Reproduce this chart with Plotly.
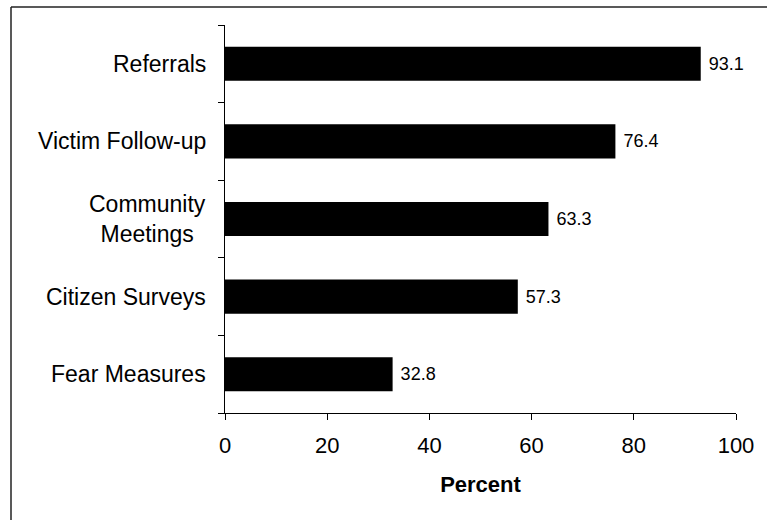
import plotly.graph_objects as go

# Share of agencies reporting each activity (percent)
categories = ["Fear Measures", "Citizen Surveys", "Community<br>Meetings",
              "Victim Follow-up", "Referrals"]
values = [32.8, 57.3, 63.3, 76.4, 93.1]
x_ticks = [0, 20, 40, 60, 80, 100]

FONT = "Arial, Liberation Sans, Helvetica, sans-serif"
W, H = 767, 520
ML, MR, MT, MB = 225, 31, 25, 107
pw, ph = W - ML - MR, H - MT - MB

fig = go.Figure()
fig.add_trace(go.Bar(
    x=values,
    y=categories,
    orientation="h",
    marker=dict(color="#000000", line=dict(width=0)),
    text=[f"{v:.1f}" for v in values],
    texttemplate=" %{text}",
    textposition="outside",
    textfont=dict(family=FONT, size=18, color="#000000"),
    constraintext="none",
    cliponaxis=False,
    hoverinfo="skip",
))

# Category labels drawn as centred annotations so two-line labels stay centred
annotations = [
    dict(x=0, xref="paper", y=c, yref="y", text=c, showarrow=False,
         xanchor="right", yanchor="middle", align="center", xshift=-17,
         font=dict(family=FONT, size=23, color="#000000"))
    for c in categories
]

# Outer frame: top and left edges
fx = (11 - ML) / pw
fy = 1 + (MT - 7) / ph
shapes = [
    dict(type="line", xref="paper", yref="paper", x0=fx, x1=(W - ML) / pw,
         y0=fy, y1=fy, line=dict(color="#222222", width=1.5)),
    dict(type="line", xref="paper", yref="paper", x0=fx, x1=fx,
         y0=fy, y1=-MB / ph, line=dict(color="#222222", width=1.5)),
]

fig.update_layout(
    width=W, height=H,
    margin=dict(l=ML, r=MR, t=MT, b=MB, pad=0),
    paper_bgcolor="white", plot_bgcolor="white",
    showlegend=False,
    bargap=0.56,
    font=dict(family=FONT, color="#000000"),
    annotations=annotations,
    shapes=shapes,
    xaxis=dict(
        range=[0, 100], tickvals=x_ticks, ticktext=[str(t) for t in x_ticks],
        showgrid=False, zeroline=False,
        showline=True, linecolor="#000000", linewidth=1,
        ticks="outside", ticklen=6, tickcolor="#000000", tickwidth=1,
        ticklabelstandoff=7,
        tickfont=dict(family=FONT, size=22, color="#000000"),
        title=dict(text="<b>Percent</b>", standoff=19,
                   font=dict(family=FONT, size=22, color="#000000")),
    ),
    yaxis=dict(
        categoryorder="array", categoryarray=categories,
        showgrid=False, zeroline=False,
        showline=True, linecolor="#000000", linewidth=1,
        ticks="outside", ticklen=6, tickcolor="#000000", tickwidth=1,
        tickson="boundaries", showticklabels=False,
    ),
)

fig.write_html("out.html")
